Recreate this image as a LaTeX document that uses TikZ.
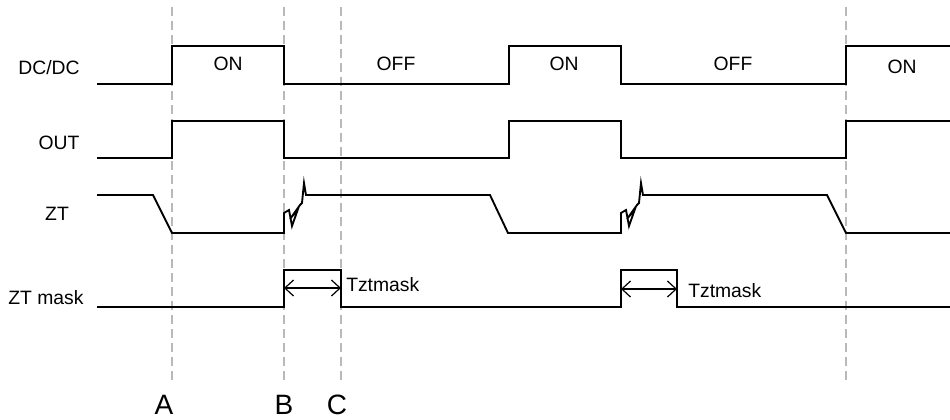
\documentclass[tikz,border=0pt]{standalone}
\usepackage{fontspec}
\setmainfont{Liberation Sans}
\usetikzlibrary{arrows.meta}

\begin{document}
\begin{tikzpicture}[x=0.75pt,y=-0.75pt,
  wave/.style={line width=1.4pt},
  guide/.style={gray!55, line width=0.8pt, dash pattern=on 7pt off 3.5pt},
  sig/.style={inner sep=0pt, font=\fontsize{14.5}{17}\selectfont},
  tlabel/.style={inner sep=0pt, font=\fontsize{14.5}{17}\selectfont, anchor=west},
  evt/.style={inner sep=0pt, font=\fontsize{21}{24}\selectfont},
  span/.style={line width=0.9pt, {Straight Barb[length=6.5pt,width=12pt]}-{Straight Barb[length=6.5pt,width=12pt]}}]
  \useasboundingbox (0,0) rectangle (950,419);

  % Guides
  \draw[guide] (172,7) -- (172,384);
  \draw[guide] (284,7) -- (284,384);
  \draw[guide] (341,7) -- (341,384);
  \draw[guide] (846,7) -- (846,384);

  % Signal names
  \node[sig] (ndcdc) at (49,68) {DC/DC};
  \node[sig] (nout) at (59,143) {OUT};
  \node[sig] (nzt) at (57,214) {ZT};
  \node[sig] (nmask) at (46,298) {ZT mask};

  % DC/DC
  \draw[wave] (97,84) -- (172,84) -- (172,46) -- (284,46) -- (284,84) -- (509,84)
    -- (509,46) -- (621,46) -- (621,84) -- (846,84) -- (846,46) -- (950,46);
  \node[sig] (on1) at (228,64) {ON};
  \node[sig] (off1) at (396,64) {OFF};
  \node[sig] (on2) at (564,64) {ON};
  \node[sig] (off2) at (733,64) {OFF};
  \node[sig] (on3) at (902,67) {ON};

  % OUT
  \draw[wave] (97,158) -- (172,158) -- (172,121) -- (284,121) -- (284,158) -- (509,158)
    -- (509,121) -- (621,121) -- (621,158) -- (846,158) -- (846,121) -- (950,121);

  % ZT
  \draw[wave] (97,195) -- (153,195) -- (172,233) -- (284,233)
    -- ++(0,-20) -- ++(5,-3) -- ++(3,16) -- ++(6,-17) -- ++(-8,10) -- ++(10,-14)
    -- ++(2,-2) -- ++(2,-20) -- ++(2,12) -- (306,195) -- (490,195) -- (508,233) -- (621,233)
    -- ++(0,-20) -- ++(5,-3) -- ++(3,16) -- ++(6,-17) -- ++(-8,10) -- ++(10,-14)
    -- ++(2,-2) -- ++(2,-20) -- ++(2,12) -- (643,195) -- (827,195) -- (846,233) -- (950,233);

  % ZT mask
  \draw[wave] (97,307) -- (284,307) -- (284,270) -- (341,270) -- (341,307) -- (621,307)
    -- (621,270) -- (677,270) -- (677,307) -- (950,307);
  \coordinate (m1a) at (284,288);
  \coordinate (m1b) at (341,288);
  \coordinate (m2a) at (621,289);
  \coordinate (m2b) at (677,289);
  \draw[span] (m1a) -- (m1b);
  \draw[span] (m2a) -- (m2b);
  \node[tlabel] (tm1) at (346,285) {Tztmask};
  \node[tlabel] (tm2) at (688,291) {Tztmask};

  % Events
  \node[evt] (ea) at (164,405) {A};
  \node[evt] (eb) at (284,405) {B};
  \node[evt] (ec) at (337,405) {C};
\end{tikzpicture}
\end{document}
